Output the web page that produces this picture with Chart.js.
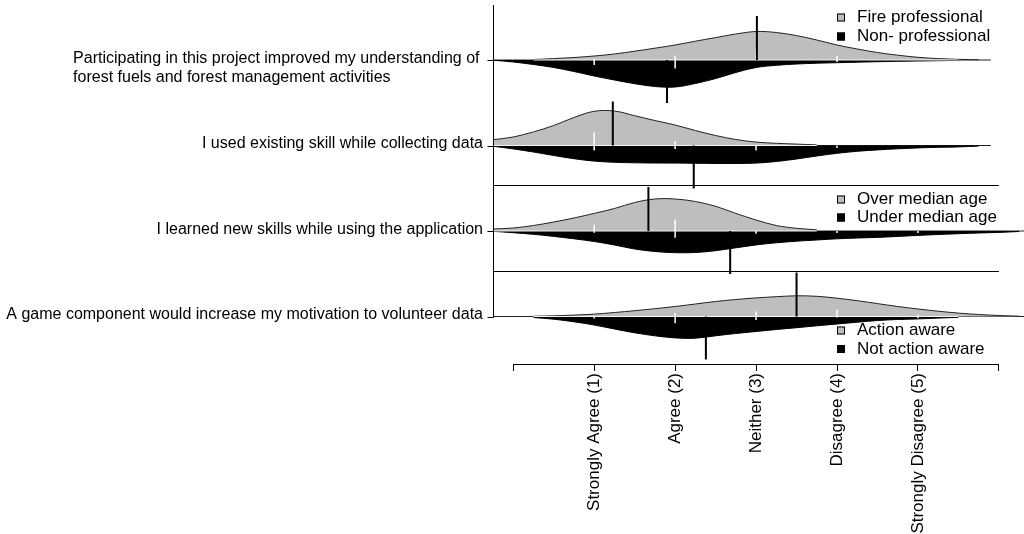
<!DOCTYPE html>
<html>
<head>
<meta charset="utf-8">
<script src="https://cdn.jsdelivr.net/npm/chart.js@4.4.0/dist/chart.umd.min.js"></script>
<style>
  html, body { margin: 0; padding: 0; background: #fff; }
  #wrap { width: 1024px; height: 534px; }
</style>
</head>
<body>
<div id="wrap"><canvas id="chart" width="1024" height="534"></canvas></div>
<script>
// Questions (row labels), top to bottom
const rowLabels = [
  ['Participating in this project improved my understanding of', 'forest fuels and forest management activities'],
  'I used existing skill while collecting data',
  'I learned new skills while using the application',
  'A game component would increase my motivation to volunteer data'
];
const tickLabels = ['', 'Strongly Agree (1)', 'Agree (2)', 'Neither (3)', 'Disagree (4)', 'Strongly Disagree (5)', ''];
const legendTexts = [
  ['Fire professional', 'Non- professional'],
  ['Over median age', 'Under median age'],
  ['Action aware', 'Not action aware']
];

// sample points of the density curves (response scale)
const xGrid = [-0.25, 0, 0.25, 0.5, 0.75, 1, 1.25, 1.5, 1.75, 2, 2.25, 2.5, 2.75, 3, 3.25, 3.5, 3.75, 4, 4.25, 4.5, 4.75, 5, 5.25, 5.5, 5.75, 6, 6.25];

// density heights, upper (grey) and lower (black) halves
const row1Upper = [null, null, 0.5, 1.4, 2.5, 4, 6, 8.8, 11.8, 15, 18.8, 22.4, 26, 28.5, 27.5, 24.4, 20, 15, 11, 7.5, 4.8, 2.7, 1.4, 0.7, 0.2, null, null];
const row1Lower = [0.2, 2, 4.5, 7.5, 11.5, 16, 20, 23.7, 26.5, 27, 23.5, 18.6, 12.5, 7.5, 5.3, 4, 3.2, 2.7, 2.2, 1.7, 1.3, 1, 0.7, 0.4, null, null, null];
const row2Upper = [5.8, 8.5, 13.6, 20, 28, 34.2, 34.5, 29.8, 25, 20.5, 15, 10, 6, 3.4, 2.2, 1.4, 0.6, null, null, null, null, null, null, null, null, null, null];
const row2Lower = [0.7, 3.4, 6.5, 10, 13.2, 15.6, 16.8, 17.3, 17.5, 17.6, 17.8, 18, 18, 17.6, 16, 13.5, 10.5, 7.8, 5.8, 4.4, 3.3, 2.4, 1.8, 1.4, 0.6, null, null];
const row3Upper = [2, 3, 5.5, 9, 13, 17.6, 22.5, 28.5, 32, 32, 29.5, 24.7, 17.6, 11, 5.5, 2.7, 1.2, null, null, null, null, null, null, null, null, null, null];
const row3Lower = [0.3, 1.7, 3.3, 5.4, 7.8, 10.5, 14, 18, 20.5, 21.7, 21.5, 19.7, 16.8, 13.9, 11.8, 10.2, 9, 7.8, 7, 6.4, 5.4, 4.4, 3.5, 2.7, 2, 1.4, 0.5];
const row4Upper = [null, null, 0.3, 0.7, 1.4, 2.4, 4, 5.8, 7.8, 10, 12.5, 15, 17, 18.6, 19.8, 20.7, 20.2, 18.3, 15.8, 12.9, 10, 7.5, 5.3, 3.4, 2, 1, 0.3];
const row4Lower = [null, null, 1, 2.7, 5.3, 8.5, 12.5, 16.3, 19.3, 21.4, 21.7, 19.3, 17, 15, 13, 11.2, 9.3, 7.5, 5.7, 4, 3, 2.4, 1.6, 0.8, null, null, null];

// group means
const meanUpper = [3.01, 1.23, 1.67, 3.50];
const meanLower = [1.90, 2.23, 2.68, 2.38];

// bean lines at responses 1..5 (length up / down)
const beanValues = [1, 2, 3, 4, 5];
const beanUp = [[1, 4.4, 9.5, 4, 0], [13, 4.4, 0, 0, 0], [6.4, 11.5, 0, 0, 0], [1, 3.4, 5, 6.8, 1.7]];
const beanDown = [[5, 8.5, 0, 2, 0], [5, 3.4, 5, 2.4, 0], [1.7, 6.8, 2.7, 2, 2], [2, 6.8, 3.4, 1, 1.7]];

// layout (y scale is in pixel-like units, 0 = bottom axis)
const rowBase = [304, 218.5, 133, 47.5];
const separators = [178.5, 93];
const rowLineEnd = [5.9, 5.9, 6.31, 6.31];
const meanLenUp = 44;
const meanLenDown = 43;
const legendY = [[17.5, 36.5], [199.5, 217.5], [330.5, 349]];

const FONT = '"Liberation Sans", Arial, sans-serif';
const GREY = '#bebebe';

const uppers = [row1Upper, row2Upper, row3Upper, row4Upper];
const lowers = [row1Lower, row2Lower, row3Lower, row4Lower];

function curve(base, heights, sign, fillColor, lineColor) {
  const pts = [];
  xGrid.forEach((x, i) => {
    if (heights[i] != null) pts.push({ x: x, y: base + sign * heights[i] });
  });
  return {
    data: pts,
    fill: { value: base },
    backgroundColor: fillColor,
    borderColor: lineColor,
    borderWidth: 1,
    pointRadius: 0,
    tension: 0.35,
    order: 5
  };
}

function segment(points, color, width, order) {
  return {
    data: points,
    fill: false,
    borderColor: color,
    borderWidth: width,
    pointRadius: 0,
    spanGaps: false,
    order: order
  };
}

const datasets = [];
rowBase.forEach((base, r) => {
  // thin base line
  datasets.push(segment([{ x: xGrid[0], y: base }, { x: rowLineEnd[r], y: base }], '#222', 1, 7));
  datasets.push(curve(base, uppers[r], 1, GREY, '#222'));
  datasets.push(curve(base, lowers[r], -1, '#000', '#000'));

  // white line where both halves exist
  const both = xGrid.filter((x, i) => uppers[r][i] != null && lowers[r][i] != null);
  datasets.push(segment([{ x: both[0], y: base }, { x: both[both.length - 1], y: base }], '#f4f4f4', 1, 3));

  // bean lines
  const bean = [];
  beanValues.forEach((v, i) => {
    if (beanUp[r][i] + beanDown[r][i] > 0) {
      bean.push({ x: v, y: base + beanUp[r][i] });
      bean.push({ x: v, y: base - beanDown[r][i] });
      bean.push({ x: v, y: null });
    }
  });
  datasets.push(segment(bean, '#ffffff', 1.5, 2));

  // mean lines
  datasets.push(segment([{ x: meanUpper[r], y: base }, { x: meanUpper[r], y: base + meanLenUp }], '#000', 2, 1));
  datasets.push(segment([{ x: meanLower[r], y: base }, { x: meanLower[r], y: base - meanLenDown }], '#000', 2, 1));
});

// axes, row labels, separators and legends
const decor = {
  id: 'decor',
  afterDraw(chart) {
    const { ctx, chartArea } = chart;
    const x = chart.scales.x;
    const y = chart.scales.y;
    ctx.save();
    ctx.strokeStyle = '#000';
    ctx.lineWidth = 1;
    const ax = Math.round(chartArea.left) + 0.5;
    ctx.beginPath();
    ctx.moveTo(ax, chartArea.top);
    ctx.lineTo(ax, Math.round(y.getPixelForValue(rowBase[3])) + 0.5);
    rowBase.forEach(b => {
      const py = Math.round(y.getPixelForValue(b)) + 0.5;
      ctx.moveTo(ax - 6, py);
      ctx.lineTo(ax, py);
    });
    separators.forEach(s => {
      const py = Math.round(y.getPixelForValue(s)) + 0.5;
      ctx.moveTo(ax, py);
      ctx.lineTo(x.getPixelForValue(6), py);
    });
    const by = Math.round(chartArea.bottom) + 0.5;
    ctx.moveTo(x.getPixelForValue(0), by);
    ctx.lineTo(x.getPixelForValue(6), by);
    ctx.stroke();

    // row labels
    ctx.fillStyle = '#000';
    ctx.font = '16px ' + FONT;
    ctx.textBaseline = 'middle';
    rowLabels.forEach((lab, r) => {
      const py = y.getPixelForValue(rowBase[r]) - 1.5;
      if (Array.isArray(lab)) {
        const left = ax - 14 - ctx.measureText(lab[0]).width;
        ctx.textAlign = 'left';
        lab.forEach((line, k) => ctx.fillText(line, left, py + k * 18.7));
      } else {
        ctx.textAlign = 'right';
        ctx.fillText(lab, ax - 10.5, py);
      }
    });

    // legends
    ctx.font = '17px ' + FONT;
    ctx.textAlign = 'left';
    legendTexts.forEach((pair, g) => {
      pair.forEach((txt, k) => {
        const cy = legendY[g][k];
        ctx.fillStyle = k === 0 ? GREY : '#000';
        ctx.fillRect(837, cy - 4, 8, 8);
        ctx.strokeStyle = '#000';
        ctx.strokeRect(837.5, cy - 3.5, 7, 7);
        ctx.fillStyle = '#000';
        ctx.fillText(txt, 857, cy);
      });
    });
    ctx.restore();
  }
};

new Chart(document.getElementById('chart'), {
  type: 'line',
  data: { datasets: datasets },
  options: {
    responsive: false,
    animation: false,
    layout: { padding: { left: 493, top: 5, right: 0, bottom: 0 } },
    plugins: { legend: { display: false }, tooltip: { enabled: false } },
    scales: {
      x: {
        type: 'linear',
        min: -0.25,
        max: 6.31,
        border: { display: false },
        grid: { drawOnChartArea: false, drawTicks: true, tickLength: 7, color: '#000' },
        afterBuildTicks: (scale) => {
          scale.ticks = tickLabels.map((t, i) => ({ value: i }));
        },
        afterFit: (scale) => {
          scale.height = 170;
          scale.paddingLeft = 0;
          scale.paddingRight = 0;
        },
        ticks: {
          autoSkip: false,
          maxRotation: 90,
          minRotation: 90,
          padding: 2,
          color: '#000',
          font: { family: FONT, size: 17 },
          callback: (value) => tickLabels[value] || ''
        }
      },
      y: {
        type: 'linear',
        display: false,
        min: 0,
        max: 359
      }
    }
  },
  plugins: [decor]
});
</script>
</body>
</html>
